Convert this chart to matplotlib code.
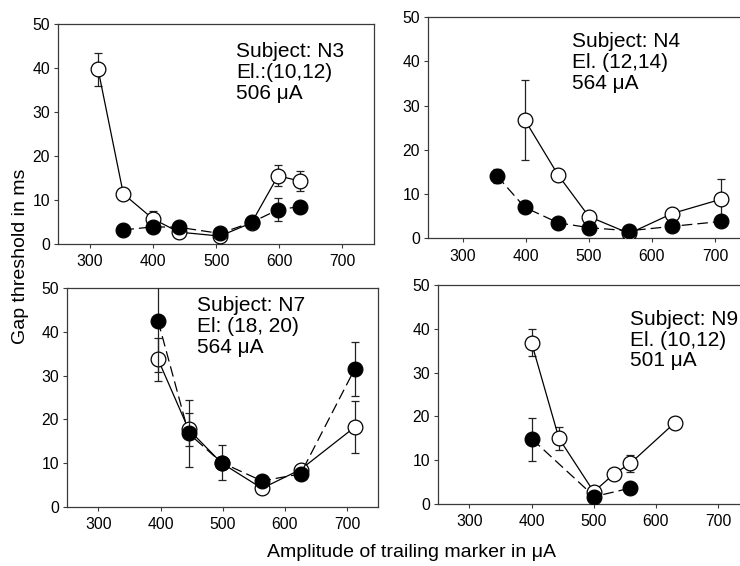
import matplotlib
matplotlib.use("Agg")
import matplotlib.pyplot as plt

plt.rcParams['font.family'] = ['Liberation Sans', 'DejaVu Sans']

# ---------------- data ----------------
# Subject N3
n3_open_x = [313, 353, 400, 441, 506, 556, 598, 633]
n3_open_y = [39.7, 11.4, 5.7, 2.7, 1.8, 4.8, 15.5, 14.3]
n3_open_err = [3.7, 0.4, 1.9, 0.4, 0.4, 0.4, 2.4, 2.3]
n3_fill_x = [353, 400, 441, 506, 556, 598, 633]
n3_fill_y = [3.2, 3.9, 3.8, 2.4, 4.9, 7.8, 8.5]
n3_fill_err = [0.3, 0.5, 0.5, 0.3, 0.5, 2.6, 0.5]

# Subject N4
n4_open_x = [398, 451, 500, 564, 632, 709]
n4_open_y = [26.8, 14.3, 4.9, 1.1, 5.6, 8.8]
n4_open_err = [9.0, 0.5, 0.5, 0.3, 0.5, 4.7]
n4_fill_x = [354, 398, 451, 500, 564, 632, 709]
n4_fill_y = [14.1, 7.0, 3.5, 2.4, 1.7, 2.7, 3.8]
n4_fill_err = [1.6, 0.5, 1.0, 0.5, 0.3, 0.5, 0.5]

# Subject N7
n7_open_x = [396, 445, 498, 563, 625, 712]
n7_open_y = [33.7, 17.7, 10.0, 4.2, 8.5, 18.2]
n7_open_err = [4.9, 3.8, 0.5, 0.5, 0.5, 6.0]
n7_fill_x = [396, 445, 498, 563, 625, 712]
n7_fill_y = [42.5, 16.8, 10.1, 5.9, 7.5, 31.5]
n7_fill_err = [11.7, 7.6, 4.1, 0.5, 0.5, 6.1]

# Subject N9
n9_open_x = [400, 444, 500, 533, 559, 630]
n9_open_y = [36.8, 15.0, 2.8, 6.9, 9.3, 18.5]
n9_open_err = [3.1, 2.6, 0.5, 0.5, 1.9, 0.5]
n9_fill_x = [401, 501, 558]
n9_fill_y = [14.8, 1.7, 3.6]
n9_fill_err = [4.9, 0.5, 0.5]

x_ticks = [300, 400, 500, 600, 700]
y_ticks = [0, 10, 20, 30, 40, 50]

panel_texts = [
    ["Subject: N3", "El.:(10,12)", "506 \u03bcA"],
    ["Subject: N4", "El. (12,14)", "564 \u03bcA"],
    ["Subject: N7", "El: (18, 20)", "564 \u03bcA"],
    ["Subject: N9", "El. (10,12)", "501 \u03bcA"],
]

x_label = "Amplitude of trailing marker in \u03bcA"
y_label = "Gap threshold in ms"

# ---------------- layout ----------------
W, H = 740, 566
fig = plt.figure(figsize=(W / 100, H / 100), dpi=100)


def ax_rect(x0, x1, ytop, ybot):
    return [x0 / W, 1 - ybot / H, (x1 - x0) / W, (ybot - ytop) / H]


panels = [
    dict(rect=ax_rect(58.3, 374.0, 24.0, 244.0), xlim=(250, 750),
         data=(n3_open_x, n3_open_y, n3_open_err, n3_fill_x, n3_fill_y, n3_fill_err),
         text_x=236, text_y=[57.3, 78.3, 98.7]),
    dict(rect=ax_rect(428.3, 746.5, 17.0, 238.3), xlim=(245, 750),
         data=(n4_open_x, n4_open_y, n4_open_err, n4_fill_x, n4_fill_y, n4_fill_err),
         text_x=572, text_y=[47.3, 68.3, 89.0]),
    dict(rect=ax_rect(67.3, 378.3, 288.3, 506.7), xlim=(250, 750),
         data=(n7_open_x, n7_open_y, n7_open_err, n7_fill_x, n7_fill_y, n7_fill_err),
         text_x=197, text_y=[310.7, 331.7, 353.3]),
    dict(rect=ax_rect(438.3, 749.2, 285.0, 504.0), xlim=(250, 750),
         data=(n9_open_x, n9_open_y, n9_open_err, n9_fill_x, n9_fill_y, n9_fill_err),
         text_x=629.5, text_y=[325.0, 346.0, 366.0]),
]

spine_col = '#3a3a3a'
ms = 10.6

for i, p in enumerate(panels):
    ax = fig.add_axes(p['rect'])
    ox, oy, oe, fx, fy, fe = p['data']
    ax.errorbar(ox, oy, yerr=oe, fmt='-', color='black', lw=0.9,
                marker='o', ms=ms, mfc='white', mec='black', mew=0.9,
                ecolor='#222222', elinewidth=0.9, capsize=3, capthick=0.9,
                zorder=3)
    ax.errorbar(fx, fy, yerr=fe, fmt='--', color='black', lw=0.9,
                marker='o', ms=ms, mfc='black', mec='black', mew=0.9,
                ecolor='#222222', elinewidth=0.9, capsize=3, capthick=0.9,
                zorder=4, dashes=(8.5, 4))
    ax.set_xlim(*p['xlim'])
    ax.set_ylim(0, 50)
    ax.set_xticks(x_ticks)
    ax.set_yticks(y_ticks)
    ax.tick_params(direction='out', length=3, width=0.8, labelsize=11.3,
                   color=spine_col, pad=3)
    ax.tick_params(axis='x', pad=4.5)
    for s in ax.spines.values():
        s.set_color(spine_col)
        s.set_linewidth(0.9)
    for line, ty in zip(panel_texts[i], p['text_y']):
        fig.text(p['text_x'] / W, 1 - ty / H, line, fontsize=15,
                 ha='left', va='baseline')

fig.text(267 / W, 1 - 557 / H, x_label, fontsize=14, ha='left', va='baseline')
fig.text(21 / W, 1 - 256.5 / H, y_label, fontsize=14, rotation=90,
         ha='center', va='center')

fig.savefig('out.png', dpi=100)
